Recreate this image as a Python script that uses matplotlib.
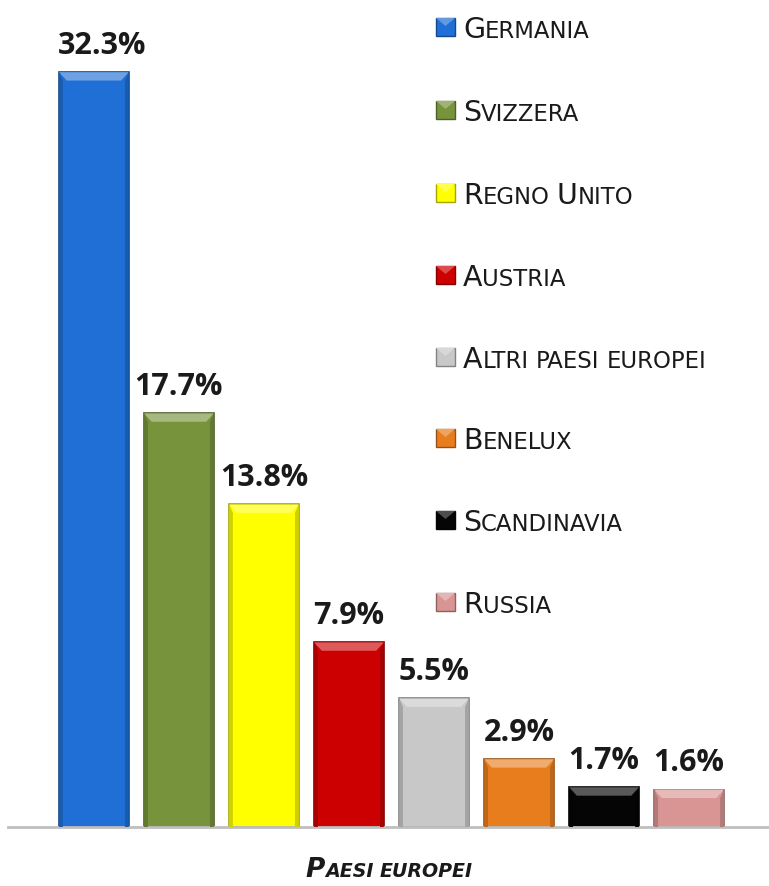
import matplotlib
matplotlib.use("Agg")
import matplotlib.pyplot as plt
import matplotlib.colors as mcolors
from matplotlib.patches import Polygon, Rectangle
from matplotlib.transforms import IdentityTransform

categories = ["Germania", "Svizzera", "Regno Unito", "Austria",
              "Altri paesi europei", "Benelux", "Scandinavia", "Russia"]
values = [32.3, 17.7, 13.8, 7.9, 5.5, 2.9, 1.7, 1.6]
value_labels = ["32.3%", "17.7%", "13.8%", "7.9%", "5.5%", "2.9%", "1.7%", "1.6%"]
colors = ["#1f6fd6", "#77933c", "#ffff00", "#cc0000",
          "#c8c8c8", "#e87d1e", "#050505", "#d99594"]
xlabel = "Paesi europei"

W, H = 769, 887
fig = plt.figure(figsize=(W / 100, H / 100), dpi=100)
ax = fig.add_axes([8 / W, 59 / H, 761 / W, 828 / H])

def mix(c, other, t):
    a = mcolors.to_rgb(c)
    b = mcolors.to_rgb(other)
    return tuple(a[i] * (1 - t) + b[i] * t for i in range(3))

xs = list(range(len(values)))
width = 0.82
bars = ax.bar(xs, values, width=width, color=colors,
              edgecolor=[mix(c, "black", 0.35) for c in colors], linewidth=1.2, zorder=2)

# bevel effect
dy = 0.36
dx = 0.09
for b, c in zip(bars, colors):
    x0 = b.get_x(); x1 = x0 + b.get_width(); top = b.get_height()
    hi = mix(c, "white", 0.35) if c != "#050505" else (0.35, 0.35, 0.35)
    ax.add_patch(Polygon([(x0, top), (x1, top), (x1 - dx, top - dy), (x0 + dx, top - dy)],
                         closed=True, facecolor=hi, edgecolor="none", zorder=3))
    side = mix(c, "black", 0.18)
    ax.add_patch(Polygon([(x0, top), (x0 + dx * 0.5, top - dy), (x0 + dx * 0.5, 0), (x0, 0)],
                         closed=True, facecolor=side, edgecolor="none", zorder=3))
    ax.add_patch(Polygon([(x1, top), (x1 - dx * 0.5, top - dy), (x1 - dx * 0.5, 0), (x1, 0)],
                         closed=True, facecolor=side, edgecolor="none", zorder=3))

ax.set_xlim(-1.01, 7.94)
ax.set_ylim(0, 35.43)
for s in ["top", "right", "left"]:
    ax.spines[s].set_visible(False)
ax.spines["bottom"].set_color("#bfbfbf")
ax.spines["bottom"].set_linewidth(2)
ax.set_xticks([])
ax.set_yticks([])
ax.patch.set_visible(False)

renderer = fig.canvas.get_renderer()

min_left_px = 58
for x, v, lab in zip(xs, values, value_labels):
    t = ax.annotate(lab, (x, v), xytext=(0, 9), textcoords="offset points",
                    ha="center", va="bottom", fontsize=22, fontweight="bold",
                    family="Open Sans", color="#1a1a1a")
    ext = t.get_window_extent(renderer)
    if ext.x0 < min_left_px:
        shift_pt = (min_left_px - ext.x0) * 72 / fig.dpi
        t.set_position((shift_pt, 9))

def runs_of(s):
    runs = []
    for ch in s:
        kind = "sp" if ch == " " else ("big" if ch.isupper() else "small")
        if runs and runs[-1][0] == kind:
            runs[-1][1] += ch
        else:
            runs.append([kind, ch])
    return runs

def smallcaps(xp, yp, s, size, ratio=0.8, ha="left", **kw):
    items = []
    total = 0
    for kind, txt in runs_of(s):
        if kind == "sp":
            w = size * ratio * 1.389 * 0.32 * len(txt)
            items.append((None, w))
            total += w
            continue
        fs = size if kind == "big" else size * ratio
        t = fig.text(0, 0, txt.upper(), fontsize=fs, transform=IdentityTransform(),
                     va="baseline", ha="left", **kw)
        w = t.get_window_extent(renderer).width
        items.append((t, w))
        total += w
    x = xp - total / 2 if ha == "center" else xp
    for t, w in items:
        if t is not None:
            t.set_position((x, yp))
        x += w

# legend
leg_y = [28, 111, 194, 276, 358, 439, 521, 603]
for name, c, yc in zip(categories, colors, leg_y):
    ypix = H - yc
    sq = 18
    fig.patches.append(Rectangle((436, ypix - sq / 2), sq + 1, sq, transform=IdentityTransform(),
                                 facecolor=c, edgecolor=mix(c, "black", 0.35), linewidth=1,
                                 figure=fig))
    fig.patches.append(Polygon([(436, ypix + sq / 2), (437 + sq, ypix + sq / 2),
                                (436.5 + sq / 2, ypix + 1)], closed=True,
                               transform=IdentityTransform(),
                               facecolor=mix(c, "white", 0.3) if c != "#050505" else (0.3, 0.3, 0.3),
                               edgecolor="none", figure=fig))
    smallcaps(463, ypix - 10, name, 20.5, ratio=0.8, family="DejaVu Sans", color="#1a1a1a")

smallcaps(389, H - 877, xlabel, 19, ratio=0.72, ha="center", family="DejaVu Sans",
          fontweight="bold", fontstyle="oblique", color="#1a1a1a")

fig.savefig("out.png", dpi=100)
